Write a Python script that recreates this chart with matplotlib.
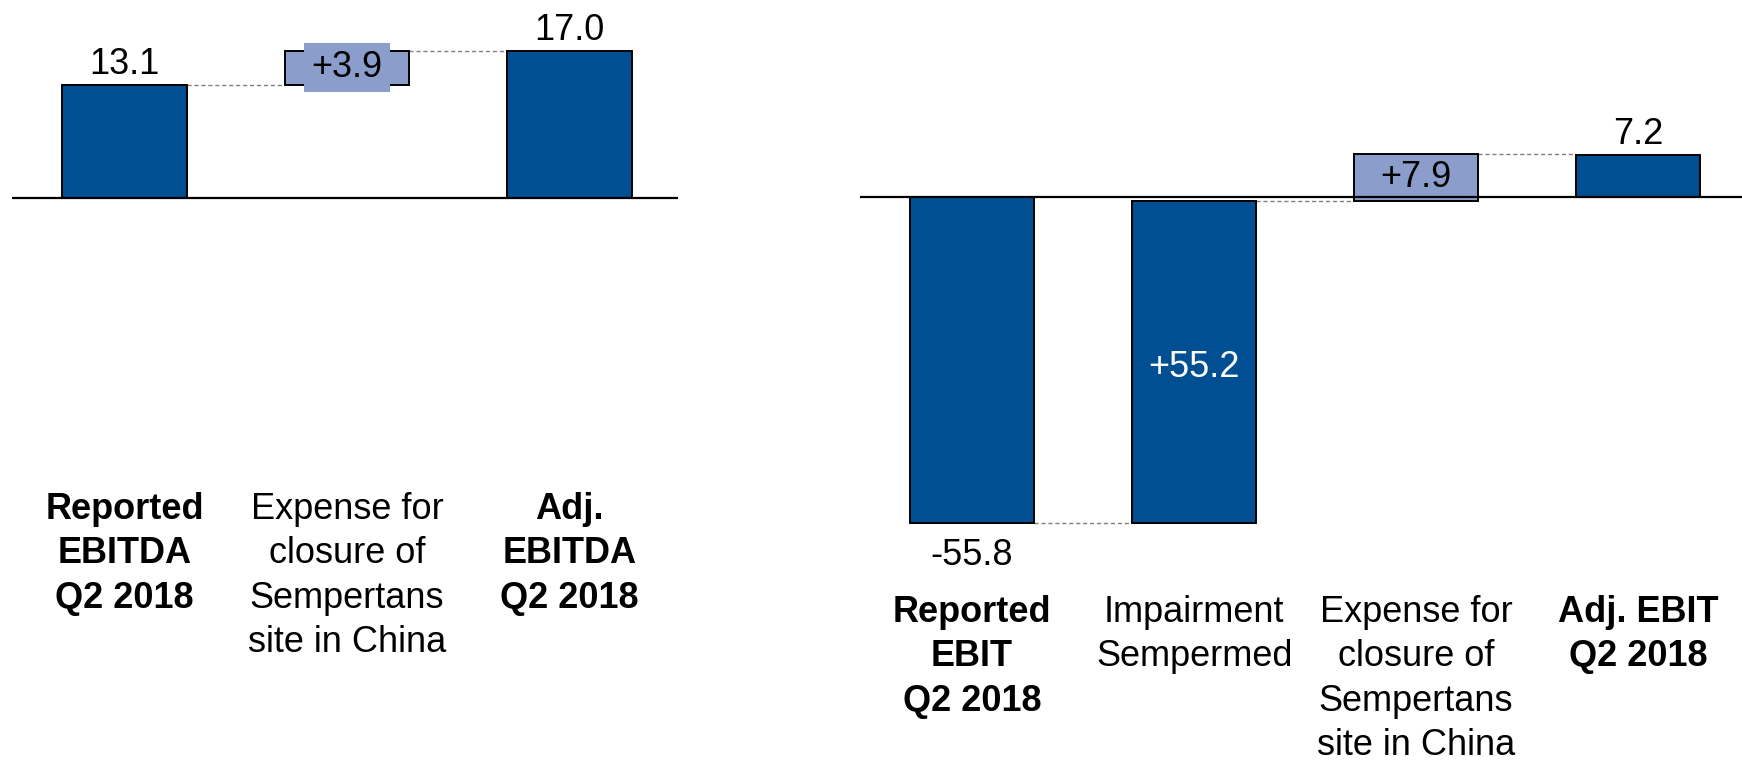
import matplotlib
matplotlib.use("Agg")
import matplotlib.pyplot as plt

plt.rcParams['font.family'] = ['Liberation Sans', 'DejaVu Sans']

# ---- data ----
ebitda_labels = ["Reported\nEBITDA\nQ2 2018", "Expense for\nclosure of\nSempertans\nsite in China", "Adj.\nEBITDA\nQ2 2018"]
ebitda_values = [13.1, 3.9, 17.0]
ebitda_kind = ["total", "delta", "total"]
ebitda_text = ["13.1", "+3.9", "17.0"]
ebitda_bold = [True, False, True]

ebit_labels = ["Reported\nEBIT\nQ2 2018", "Impairment\nSempermed", "Expense for\nclosure of\nSempertans\nsite in China", "Adj. EBIT\nQ2 2018"]
ebit_values = [-55.8, 55.2, 7.9, 7.2]
ebit_kind = ["total", "delta", "delta", "total"]
ebit_text = ["-55.8", "+55.2", "+7.9", "7.2"]
ebit_bold = [True, False, False, True]
ebit_delta_dark = [False, True, False, False]

DARK = "#004F93"
LIGHT = "#8A9DCB"
FS = 26
W, H = 1742, 760

fig = plt.figure(figsize=(W / 100, H / 100), dpi=100)


def waterfall(ax, values, kinds, texts, labels, bold, dark_delta, label_top, px_per_unit):
    running = 0.0
    bottoms, tops = [], []
    for v, k in zip(values, kinds):
        if k == "total":
            b, t = 0.0, v
            running = v
        else:
            b, t = running, running + v
            running = running + v
        bottoms.append(b)
        tops.append(t)
    width = 0.56
    for i, (b, t, k) in enumerate(zip(bottoms, tops, kinds)):
        col = DARK if (k == "total" or dark_delta[i]) else LIGHT
        ax.bar(i, t - b, bottom=b, width=width, color=col, edgecolor="black",
               linewidth=1.4, zorder=2)
        if k == "total":
            if t >= 0:
                ax.annotate(texts[i], (i, t), xytext=(0, 11), textcoords="offset pixels",
                            ha="center", va="baseline", fontsize=FS, zorder=4)
            else:
                ax.annotate(texts[i], (i, t), xytext=(0, -15), textcoords="offset pixels",
                            ha="center", va="top", fontsize=FS, zorder=4)
        else:
            mid = (b + t) / 2
            if col == DARK:
                ax.annotate(texts[i], (i, mid), xytext=(0, -6), textcoords="offset pixels",
                            ha="center", va="center", fontsize=FS,
                            color="white", zorder=4)
            else:
                small = abs(t - b) * px_per_unit < 44
                kw = {}
                if small:
                    kw["bbox"] = dict(boxstyle="square,pad=0.2", facecolor=LIGHT,
                                      edgecolor="none")
                ax.text(i, mid, texts[i], ha="center", va="center", fontsize=FS,
                        color="black", zorder=4, **kw)
        if i < len(values) - 1:
            ax.plot([i + width / 2, i + 1 - width / 2], [t, t],
                    color="#808080", linewidth=1.0, linestyle=(0, (3, 2)), zorder=1)
    for i, lab in enumerate(labels):
        ax.text(i, label_top, lab, transform=ax.get_xaxis_transform(), ha="center",
                va="top", fontsize=FS, fontweight="bold" if bold[i] else "normal",
                linespacing=1.35, multialignment="center")
    ax.axhline(0, color="black", linewidth=1.6, zorder=3)
    ax.axis("off")


# left chart
ax1 = fig.add_axes([12 / W, 0, (678 - 12) / W, 1])
ax1.set_xlim(-0.506, 2.488)
s1 = 8.66
ax1.set_ylim(-(H - 198) / s1, 198 / s1)
waterfall(ax1, ebitda_values, ebitda_kind, ebitda_text, ebitda_labels, ebitda_bold,
          [False] * 3, 1 - 492 / H, s1)

# right chart
ax2 = fig.add_axes([860 / W, 0, (W - 860) / W, 1])
ax2.set_xlim(-0.505, 3.468)
s2 = 5.85
ax2.set_ylim(-(H - 197) / s2, 197 / s2)
waterfall(ax2, ebit_values, ebit_kind, ebit_text, ebit_labels, ebit_bold,
          ebit_delta_dark, 1 - 595 / H, s2)

fig.savefig("out.png", dpi=100)
